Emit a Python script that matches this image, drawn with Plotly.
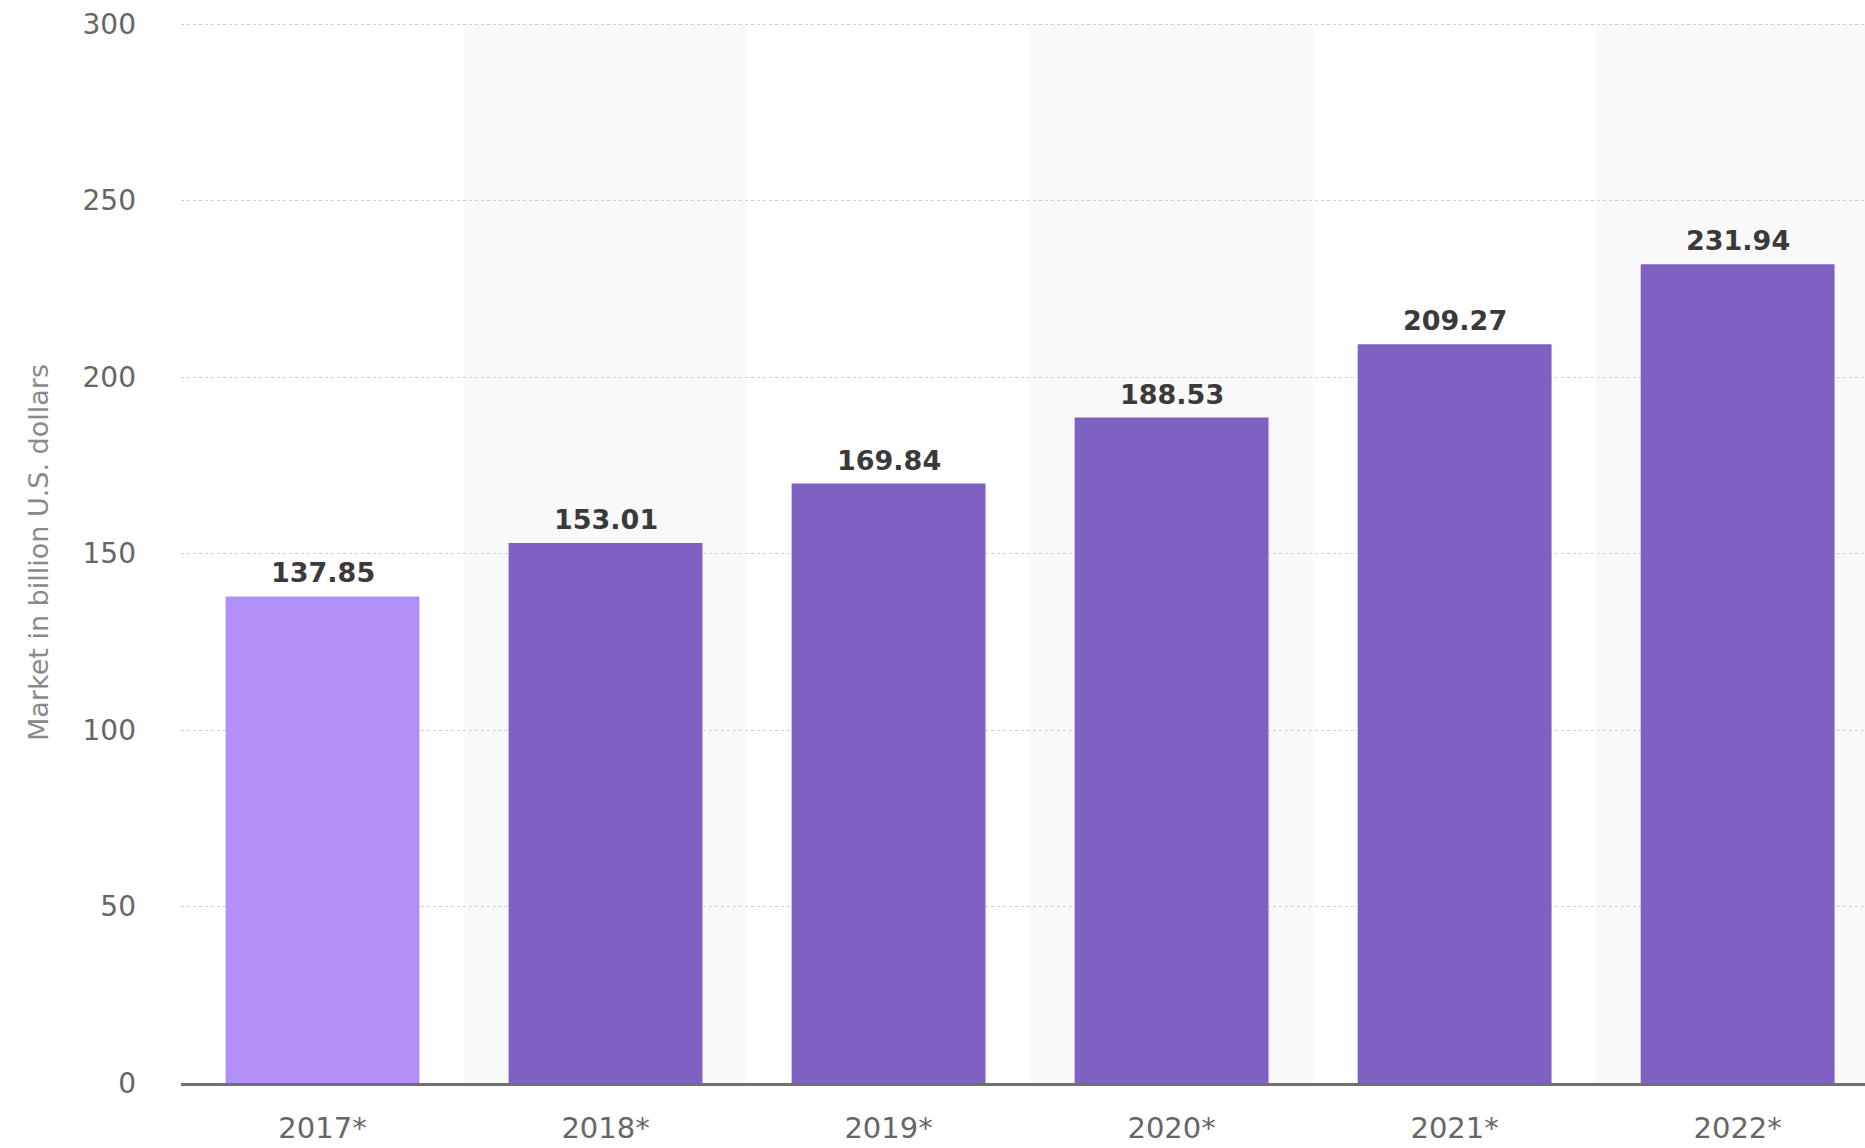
import plotly.graph_objects as go

years = ["2017*", "2018*", "2019*", "2020*", "2021*", "2022*"]
market = [137.85, 153.01, 169.84, 188.53, 209.27, 231.94]
bar_colors = ["#b28ff7", "#7f60c3", "#7f60c3", "#7f60c3", "#7f60c3", "#7f60c3"]
y_ticks = [0, 50, 100, 150, 200, 250, 300]
y_title = "Market in billion U.S. dollars"

FONT = "DejaVu Sans"

fig = go.Figure()
fig.add_trace(go.Bar(
    x=years, y=market,
    marker=dict(color=bar_colors, line=dict(width=0)),
    hoverinfo="skip",
))

# value labels
for yr, v in zip(years, market):
    fig.add_annotation(
        x=yr, y=v, text=f"{v:.2f}", showarrow=False,
        yanchor="bottom", yshift=6,
        font=dict(family=FONT, size=27, color="#3a3a3a", weight="bold"),
    )

# alternating background bands
for i in range(1, len(years), 2):
    fig.add_shape(type="rect", xref="x", yref="y",
                  x0=i - 0.5, x1=i + 0.5, y0=0, y1=300,
                  fillcolor="#f9f9f9", line=dict(width=0), layer="below")

fig.update_layout(
    width=1865, height=1148,
    margin=dict(l=181, r=0, t=22, b=65),
    plot_bgcolor="white", paper_bgcolor="white",
    bargap=0.315,
    showlegend=False,
    font=dict(family=FONT),
)
fig.update_xaxes(
    type="category", range=[-0.5, 5.45], automargin=False,
    showgrid=False, showline=True, linecolor="#707070", linewidth=3,
    tickfont=dict(family=FONT, size=29, color="#666666"),
    ticks="", ticklabelstandoff=17,
)
fig.update_yaxes(
    range=[0, 300.6], tickvals=y_ticks, automargin=False,
    showgrid=True, gridcolor="#cfcfcf", gridwidth=1, griddash="dot",
    zeroline=False, showline=False,
    tickfont=dict(family=FONT, size=28, color="#666666"),
    ticks="", ticklabelstandoff=44,
    title=dict(text=y_title, font=dict(family=FONT, size=27, color="#8a8a8a"), standoff=26),
)

fig.write_html("out.html", config={"displayModeBar": False},
               post_script="document.body.style.margin='0';document.body.style.overflow='hidden';")
